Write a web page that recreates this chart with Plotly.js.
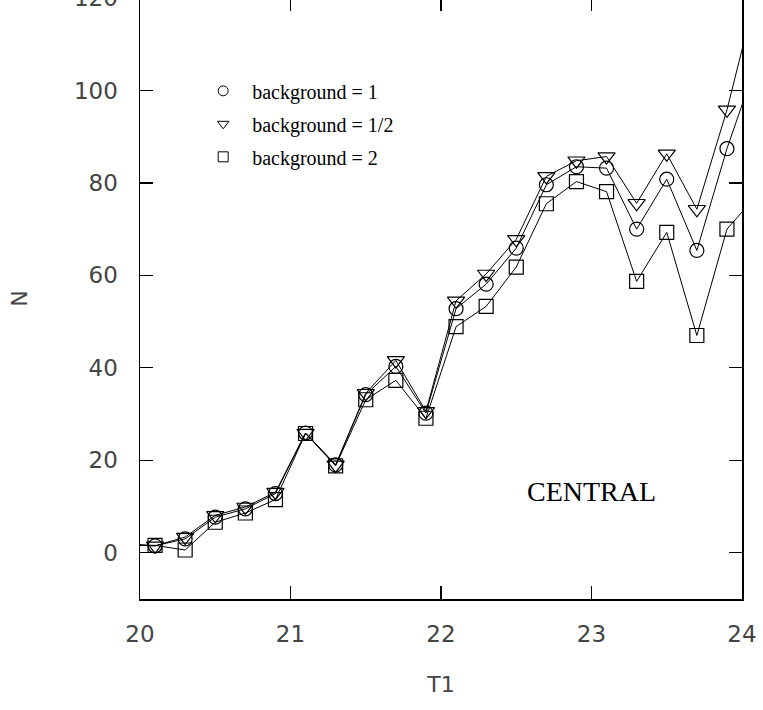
<!DOCTYPE html>
<html>
<head>
<meta charset="utf-8">
<script src="https://cdn.plot.ly/plotly-3.0.1.min.js"></script>
<style>
html,body{margin:0;padding:0;background:#fff;overflow:hidden;}
#chart{position:absolute;left:0;top:-20px;width:763px;height:730px;}
</style>
</head>
<body>
<div id="chart"></div>
<script>
// T1 bin centres (outer points at 19.9 and 24.1 lie outside the axes and are clipped)
const t1 = [19.9, 20.1, 20.3, 20.5, 20.7, 20.9, 21.1, 21.3, 21.5, 21.7, 21.9,
            22.1, 22.3, 22.5, 22.7, 22.9, 23.1, 23.3, 23.5, 23.7, 23.9, 24.1];
const bg1 =   [1.8, 1.5, 3.0, 7.7, 9.5, 12.8, 25.9, 19.0, 34.2, 40.3, 30.2,
               52.8, 58.1, 65.9, 79.6, 83.5, 83.2, 70.0, 80.8, 65.4, 87.4, 106.3];
const bgHalf = [1.8, 1.5, 3.4, 8.1, 9.9, 13.1, 25.9, 19.0, 34.5, 41.6, 30.6,
               54.5, 60.3, 67.8, 81.4, 84.8, 85.7, 75.6, 86.3, 74.3, 95.8, 121.8];
const bg2 =   [1.8, 1.6, 0.6, 6.6, 8.6, 11.5, 25.8, 18.8, 33.1, 37.3, 29.1,
               48.9, 53.3, 61.8, 75.5, 80.3, 78.1, 58.7, 69.3, 47.0, 70.0, 77.4];
const names = ['background = 1', 'background = 1/2', 'background = 2'];
const symbols = ['circle-open', 'triangle-down-open', 'square-open'];
const xTicks = [20, 21, 22, 23, 24];
const yTicks = [0, 20, 40, 60, 80, 100, 120];

const series = [bg1, bgHalf, bg2];
const traces = [];
series.forEach((ys, i) => {
  traces.push({
    x: t1, y: ys, type: 'scatter', mode: 'lines+markers',
    line: {color: '#000', width: 1},
    marker: {symbol: symbols[i], size: i === 1 ? 15 : 14, color: '#000', line: {width: 1.2, color: '#000'}},
    showlegend: false, cliponaxis: true, hoverinfo: 'skip'
  });
});
// legend-only entries (symbol + label)
series.forEach((ys, i) => {
  traces.push({
    x: [null], y: [null], type: 'scatter', mode: 'markers', name: names[i],
    legendgroup: 'g' + i,
    marker: {symbol: symbols[i], size: 10, color: '#000', line: {width: 1, color: '#000'}},
    showlegend: true
  });
});

const axisCommon = {
  showline: true, linecolor: '#000', linewidth: 1.5, mirror: 'ticks',
  ticks: 'inside', ticklen: 13, tickwidth: 1.2, tickcolor: '#000',
  showgrid: false, zeroline: false,
  tickfont: {family: 'DejaVu Sans', size: 23, color: '#444'}
};

const layout = {
  width: 763, height: 730,
  margin: {l: 140, r: 21, t: 18, b: 111},
  paper_bgcolor: '#fff', plot_bgcolor: '#fff',
  xaxis: Object.assign({}, axisCommon, {
    range: [20, 24], tickvals: xTicks, ticktext: xTicks.map(String),
    ticklabelstandoff: 14,
    title: {text: 'T1', font: {family: 'DejaVu Sans', size: 22, color: '#444'}, standoff: 30}
  }),
  yaxis: Object.assign({}, axisCommon, {
    range: [-10, 120], tickvals: yTicks, ticktext: yTicks.map(String),
    ticklabelstandoff: 16,
    title: {text: 'N', font: {family: 'DejaVu Sans', size: 22, color: '#444'}, standoff: 40}
  }),
  legend: {
    x: 0.09, y: 0.878, xanchor: 'left', yanchor: 'top',
    bgcolor: 'rgba(0,0,0,0)', borderwidth: 0,
    font: {family: 'Liberation Serif', size: 20, color: '#000'},
    tracegroupgap: 4, itemwidth: 48
  },
  annotations: [{
    x: 23.0, y: 13.2, xref: 'x', yref: 'y', text: 'CENTRAL', showarrow: false,
    font: {family: 'Liberation Serif', size: 28, color: '#000'}
  }]
};

Plotly.newPlot('chart', traces, layout, {displayModeBar: false, staticPlot: true});
</script>
</body>
</html>
